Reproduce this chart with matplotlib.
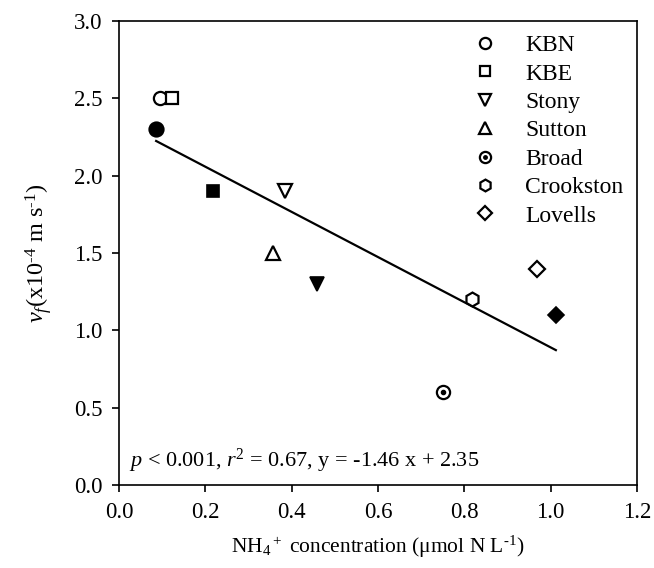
import matplotlib
matplotlib.use("Agg")
import matplotlib.pyplot as plt
import numpy as np
from matplotlib.lines import Line2D
from matplotlib.legend_handler import HandlerTuple

plt.rcParams['font.family'] = ['Liberation Serif', 'DejaVu Serif']
plt.rcParams['mathtext.fontset'] = 'custom'
plt.rcParams['mathtext.rm'] = 'Liberation Serif'
plt.rcParams['mathtext.it'] = 'Liberation Serif:italic'
plt.rcParams['mathtext.bf'] = 'Liberation Serif:bold'

# data
sites = ["KBN", "KBE", "Stony", "Sutton", "Broad", "Crookston", "Lovells"]
site_markers = ["o", "s", "v", "^", "o", "h", "D"]
open_x = [0.095, 0.123, 0.385, 0.357, 0.750, 0.818, 0.968]
open_y = [2.5, 2.5, 1.9, 1.5, 0.6, 1.2, 1.4]
filled_sites = ["KBN", "KBE", "Stony", "Lovells"]
filled_x = [0.086, 0.218, 0.459, 1.012]
filled_y = [2.3, 1.9, 1.3, 1.1]
slope, intercept = -1.46, 2.35
xticks = [0.0, 0.2, 0.4, 0.6, 0.8, 1.0, 1.2]
yticks = [0.0, 0.5, 1.0, 1.5, 2.0, 2.5, 3.0]

sizes = {"o": 9.5, "s": 9, "v": 9.5, "^": 9.5, "h": 10, "D": 8}

fig = plt.figure(figsize=(6.54, 5.68), dpi=100)
ax = fig.add_axes([0.182, 0.146, 0.792, 0.817])

handles = []
for name, m, x, y in zip(sites, site_markers, open_x, open_y):
    ms = sizes[m]
    ax.plot([x], [y], linestyle='none', marker=m, ms=ms, mfc='white',
            mec='black', mew=1.6, zorder=3)
    h = Line2D([], [], linestyle='none', marker=m, ms=ms * 0.85, mfc='white',
               mec='black', mew=1.6)
    if name == "Broad":
        ax.plot([x], [y], linestyle='none', marker='o', ms=3, mfc='black',
                mec='black', zorder=4)
        dot = Line2D([], [], linestyle='none', marker='o', ms=2.5,
                     mfc='black', mec='black')
        handles.append((h, dot))
    else:
        handles.append(h)

for name, x, y in zip(filled_sites, filled_x, filled_y):
    m = site_markers[sites.index(name)]
    ms = sizes[m] + (1 if m == 'o' else 0)
    ax.plot([x], [y], linestyle='none', marker=m, ms=ms, mfc='black',
            mec='black', mew=1.2, zorder=3)

allx = np.array(open_x + filled_x)
xl = np.array([allx.min(), allx.max()])
ax.plot(xl, slope * xl + intercept, color='black', lw=1.6, zorder=2)

ax.set_xlim(0, 1.2)
ax.set_ylim(0, 3.0)
ax.set_xticks(xticks)
ax.set_yticks(yticks)
ax.set_xticklabels([f"{t:.1f}" for t in xticks])
ax.set_yticklabels([f"{t:.1f}" for t in yticks])
ax.tick_params(direction='out', length=5, width=1.2, labelsize=16.5,
               top=False, right=False, pad=7)
for s in ax.spines.values():
    s.set_linewidth(1.2)

ax.set_xlabel(r"NH$_4$$^+$ concentration (μmol N L$^{\text{-}1}$)", fontsize=15.5,
              labelpad=8)
ax.set_ylabel(r"$v_f$(x10$^{\text{-}4}$ m s$^{\text{-}1}$)", fontsize=17.5,
              labelpad=14)

ax.text(0.022, 0.12, r"$p$ < 0.001, $r^2$ = 0.67, y = -1.46 x + 2.35",
        fontsize=16, ha='left', va='baseline')

leg = ax.legend(handles, sites, loc='upper right', frameon=False,
                fontsize=17, handler_map={tuple: HandlerTuple(ndivide=1, pad=0)},
                handlelength=1.0, handletextpad=1.2, labelspacing=0.29,
                borderaxespad=0.3, bbox_to_anchor=(1.005, 1.006))

fig.savefig("out.png", dpi=100)
